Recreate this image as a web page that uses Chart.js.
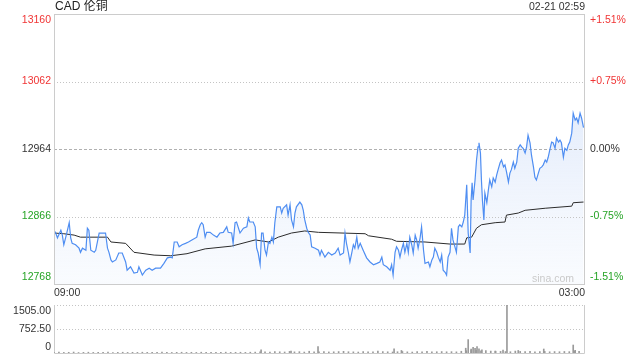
<!DOCTYPE html>
<html><head><meta charset="utf-8">
<script src="https://cdn.jsdelivr.net/npm/chart.js@4.4.0/dist/chart.umd.min.js"></script>
<style>
html,body{margin:0;padding:0;background:#fff;width:640px;height:360px;overflow:hidden}
#main{position:absolute;left:0;top:0}
#vol{position:absolute;left:0;top:296px}
</style></head><body>
<canvas id="main" width="640" height="300"></canvas>
<canvas id="vol" width="640" height="64"></canvas>
<script>
// ---- data (minutes after 09:00) ----
const priceMinutes = [
0,3,7,14,17,20,24,31,34,37,
44,51,54,58,65,68,71,75,82,85,
92,98,105,109,112,116,119,126,132,139,
146,149,156,163,170,173,180,187,194,200,
207,217,224,231,238,241,245,251,255,261,
268,274,281,291,294,298,301,304,308,311,
318,325,332,338,345,352,355,362,365,369,
372,379,386,393,396,399,406,410,413,416,
420,423,426,430,433,437,440,444,447,450,
454,461,464,467,474,477,481,484,488,491,
494,501,505,508,511,515,518,522,525,532,
539,542,545,552,559,566,573,579,583,590,
593,596,600,603,607,610,613,617,620,624,
630,637,644,651,658,664,668,671,678,685,
688,691,695,698,702,705,708,712,715,719,
722,725,729,732,736,739,742,746,749,753,
756,763,766,770,773,776,780,783,787,790,
793,797,800,803,807,810,813,817,820,824,
827,831,834,837,841,844,848,850,852,854,
858,861,864,866,869,871,873,876,878,882,
885,888,892,895,899,902,905,909,912,916,
919,922,926,929,932,936,939,943,946,950,
953,956,960,963,966,970,973,977,980,983,
987,990,994,997,1001,1004,1007,1011,1014,1017,
1021,1024,1028,1031,1034,1038,1041,1045,1048,1051,
1055,1058,1062,1065,1068,1072,1075,1079];
const prices = [
12845,12843,12835,12846,12839,12825,12836,12857,12835,12827,
12825,12820,12814,12820,12817,12849,12846,12817,12814,12817,
12842,12842,12842,12820,12814,12803,12800,12803,12813,12813,
12800,12788,12793,12784,12785,12793,12781,12788,12791,12788,
12791,12791,12798,12806,12807,12806,12829,12829,12822,12825,
12827,12829,12832,12836,12846,12854,12857,12854,12836,12843,
12843,12839,12836,12842,12843,12851,12843,12842,12827,12857,
12858,12842,12849,12851,12864,12858,12858,12851,12820,12813,
12796,12842,12842,12817,12810,12829,12827,12836,12829,12857,
12880,12880,12871,12878,12883,12868,12883,12861,12851,12871,
12880,12887,12883,12875,12861,12849,12843,12839,12822,12820,
12817,12810,12817,12807,12814,12810,12813,12820,12810,12813,
12842,12827,12813,12800,12814,12825,12820,12836,12820,12827,
12817,12806,12800,12796,12798,12800,12807,12796,12793,12788,
12796,12781,12814,12822,12817,12807,12817,12827,12814,12827,
12814,12836,12825,12813,12839,12832,12820,12835,12851,12817,
12798,12800,12793,12803,12807,12820,12814,12807,12800,12810,
12788,12785,12781,12807,12814,12849,12832,12822,12814,12851,
12854,12851,12858,12868,12912,12842,12813,12890,12915,12890,
12919,12948,12967,12973,12958,12919,12890,12861,12900,12886,
12904,12919,12909,12922,12916,12926,12934,12944,12948,12938,
12941,12931,12916,12929,12934,12945,12936,12945,12965,12970,
12967,12965,12958,12967,12984,12973,12955,12938,12923,12919,
12929,12936,12938,12941,12948,12945,12952,12965,12974,12973,
12965,12980,12974,12977,12973,12952,12965,12962,12970,12974,
12987,13016,13006,13009,13002,13016,13009,12995];
const avgMinutes = [0,20,41,54,109,116,146,163,204,238,271,308,362,410,437,457,484,511,539,634,641,688,698,756,807,837,841,851,861,871,899,919,922,946,960,1001,1055,1058,1079];
const avgPrices = [12842,12841,12839,12836,12836,12829,12827,12814,12810,12809,12812,12819,12823,12832,12829,12836,12842,12845,12843,12841,12838,12833,12830,12829,12826,12826,12835,12836,12849,12854,12857,12858,12868,12871,12875,12878,12881,12886,12887];
// volume: one base value every 10 minutes, plus visible spikes
const volBase = [
20,25,18,22,30,15,20,25,18,22,20,28,16,20,24,18,22,19,25,20,18,22,26,20,17,21,24,19,22,18,25,20,23,18,21,26,19,22,24,20,25,28,
40,35,30,45,38,32,50,36,42,30,55,40,35,48,33,38,45,52,40,36,30,42,38,35,60,44,38,32,40,46,36,30,42,38,50,35,40,45,38,42,36,55,
70,90,80,65,75,60,55,50,45,40,60,50,45,55,40,42,50,38,45,40,48,42,60,50];
const volSpikeMinutes = [422,483,538,693,708,839,844,850,854,858,862,866,872,899,915,923,946,998,1058,1062];
const volSpikeValues  = [100,60,200,130,80,150,420,120,180,150,200,130,100,60,90,1505,80,125,250,80];

const title = 'CAD 伦铜';
const stamp = '02-21 02:59';
const priceLevels = [13160,13062,12964,12866,12768];
const leftLabels = ['13160','13062','12964','12866','12768'];
const rightLabels = ['+1.51%','+0.75%','0.00%','-0.75%','-1.51%'];
const timeLabels = ['09:00','03:00'];
const volLevels = [1505,752.5,0];
const volLabels = ['1505.00','752.50','0'];

const RED='#f03434', GREEN='#25a325', NEUTRAL='#333333';
const labelColors=[RED,RED,NEUTRAL,GREEN,GREEN];
const FONT='"Liberation Sans", Arial, "Noto Sans CJK SC", sans-serif';

const priceData = priceMinutes.map((m,i)=>({x:m,y:prices[i]}));
const avgData = avgMinutes.map((m,i)=>({x:m,y:avgPrices[i]}));
const volData = volBase.map((v,i)=>({x:i*10,y:v}))
  .concat(volSpikeMinutes.map((m,i)=>({x:m,y:volSpikeValues[i]})))
  .sort((a,b)=>a.x-b.x);

function clamp(v,a,b){return Math.max(a,Math.min(b,v));}

const mainDeco = {
  id:'mainDeco',
  beforeDatasetsDraw(chart){
    const {ctx, chartArea:a, scales:{y}} = chart;
    ctx.save();
    ctx.lineWidth=1;
    priceLevels.forEach((v,i)=>{
      if(i===0||i===priceLevels.length-1) return;
      const py=Math.round(y.getPixelForValue(v))+0.5;
      const zero = (i===2);
      ctx.setLineDash(zero?[3,2]:[1,2]);
      ctx.strokeStyle= zero?'#b0b0b0':'#c4c4c4';
      ctx.beginPath(); ctx.moveTo(a.left,py); ctx.lineTo(a.right,py); ctx.stroke();
    });
    ctx.restore();
  },
  afterDraw(chart){
    const {ctx, chartArea:a, scales:{x,y}} = chart;
    ctx.save();
    ctx.setLineDash([]);
    ctx.strokeStyle='#cccccc'; ctx.lineWidth=1;
    ctx.strokeRect(a.left+0.5,a.top+0.5,a.right-a.left,a.bottom-a.top);
    ctx.font='10.5px '+FONT;
    ctx.textBaseline='middle';
    priceLevels.forEach((v,i)=>{
      const py=clamp(y.getPixelForValue(v),a.top+6,a.bottom-7);
      ctx.fillStyle=labelColors[i];
      ctx.textAlign='right'; ctx.fillText(leftLabels[i],a.left-3,py);
      ctx.textAlign='left'; ctx.fillText(rightLabels[i],a.right+6,py);
    });
    ctx.fillStyle=NEUTRAL;
    ctx.textAlign='left'; ctx.fillText(timeLabels[0],x.getPixelForValue(x.min),a.bottom+9);
    ctx.textAlign='right'; ctx.fillText(timeLabels[1],x.getPixelForValue(x.max)+1,a.bottom+9);
    ctx.fillText(stamp,a.right+1,7);
    ctx.fillStyle='#cacaca';
    ctx.fillText('sina.com',a.right-10,a.bottom-5);
    ctx.font='12px '+FONT;
    ctx.fillStyle='#222';
    ctx.textAlign='left';
    ctx.fillText(title,a.left+1,7);
    ctx.restore();
  }
};

new Chart(document.getElementById('main'),{
  type:'line',
  data:{datasets:[
    {data:priceData,borderColor:'#4f8ef2',borderWidth:1.2,pointRadius:0,tension:0,fill:'start',
     backgroundColor:(c)=>{const a=c.chart.chartArea; if(!a) return 'rgba(0,0,0,0)';
       const g=c.chart.ctx.createLinearGradient(0,a.top,0,a.bottom);
       g.addColorStop(0,'rgba(196,214,247,0.75)'); g.addColorStop(1,'rgba(238,244,253,0.35)'); return g;}},
    {data:avgData,borderColor:'#2b2b2b',borderWidth:1,pointRadius:0,tension:0,fill:false}
  ]},
  options:{
    responsive:false,animation:false,events:[],
    layout:{padding:{left:54,right:56,top:14,bottom:16}},
    scales:{
      x:{type:'linear',min:0,max:1080,display:false},
      y:{min:12768,max:13160,display:false}
    },
    plugins:{legend:{display:false},tooltip:{enabled:false},filler:{drawTime:'beforeDatasetsDraw'}}
  },
  plugins:[mainDeco]
});

const volDeco = {
  id:'volDeco',
  beforeDatasetsDraw(chart){
    const {ctx, chartArea:a, scales:{y}} = chart;
    ctx.save();
    ctx.lineWidth=1;
    ctx.strokeStyle='#c4c4c4';
    ctx.setLineDash([1,2]);
    [volLevels[0],volLevels[1]].forEach(v=>{
      const py=Math.round(y.getPixelForValue(v))+0.5;
      ctx.beginPath(); ctx.moveTo(a.left,py); ctx.lineTo(a.right,py); ctx.stroke();
    });
    ctx.setLineDash([]);
    ctx.strokeStyle='#cccccc';
    ctx.beginPath();
    ctx.moveTo(a.left+0.5,a.top); ctx.lineTo(a.left+0.5,a.bottom+0.5);
    ctx.lineTo(a.right+0.5,a.bottom+0.5); ctx.lineTo(a.right+0.5,a.top);
    ctx.stroke();
    ctx.restore();
  },
  afterDraw(chart){
    const {ctx, chartArea:a, scales:{y}} = chart;
    ctx.save();
    ctx.font='10.5px '+FONT;
    ctx.textBaseline='middle'; ctx.textAlign='right'; ctx.fillStyle=NEUTRAL;
    volLevels.forEach((v,i)=>{
      const py=clamp(y.getPixelForValue(v),a.top+6,a.bottom-6);
      ctx.fillText(volLabels[i],a.left-3,py);
    });
    ctx.restore();
  }
};

new Chart(document.getElementById('vol'),{
  type:'bar',
  data:{datasets:[{data:volData,backgroundColor:'#9a9a9a',borderWidth:0,barThickness:1}]},
  options:{
    responsive:false,animation:false,events:[],
    layout:{padding:{left:54,right:56,top:9,bottom:7}},
    scales:{
      x:{type:'linear',min:0,max:1080,display:false,offset:false},
      y:{min:0,max:1505,display:false}
    },
    plugins:{legend:{display:false},tooltip:{enabled:false}}
  },
  plugins:[volDeco]
});
</script>
</body></html>
